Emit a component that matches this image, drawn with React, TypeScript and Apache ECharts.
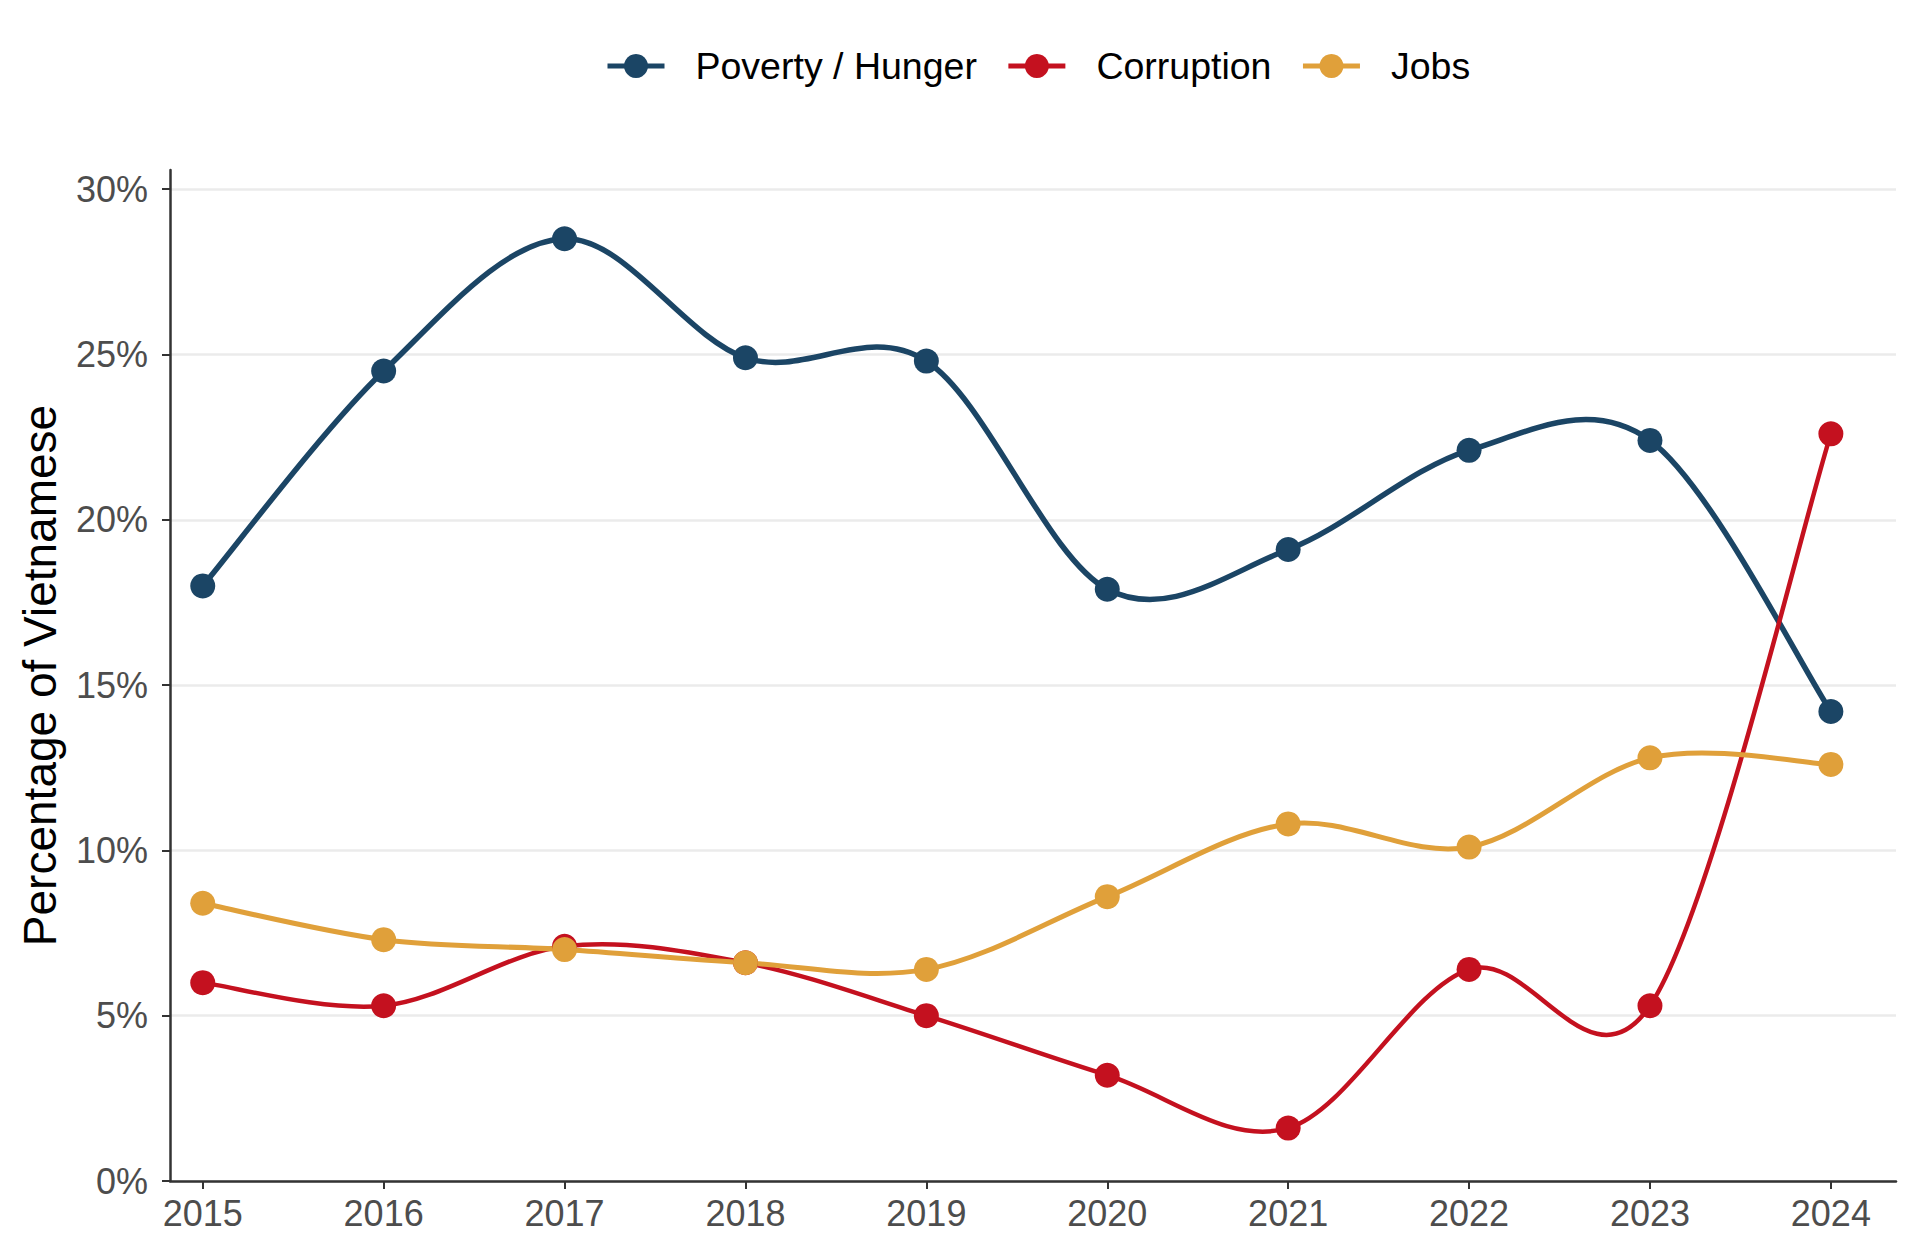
import React, { useEffect, useRef } from 'react';
import * as echarts from 'echarts';

// survey years and shares (%)
const years = [2015, 2016, 2017, 2018, 2019, 2020, 2021, 2022, 2023, 2024];
const povertyHunger = [18.0, 24.5, 28.5, 24.9, 24.8, 17.9, 19.1, 22.1, 22.4, 14.2];
const corruption = [6.0, 5.3, 7.1, 6.6, 5.0, 3.2, 1.6, 6.4, 5.3, 22.6];
const jobs = [8.4, 7.3, 7.0, 6.6, 6.4, 8.6, 10.8, 10.1, 12.8, 12.6];
const yTicks = [0, 5, 10, 15, 20, 25, 30];

const FONT = '"Liberation Sans", Arial, Helvetica, sans-serif';

const App: React.FC = () => {
  const chartRef = useRef<HTMLDivElement | null>(null);

  useEffect(() => {
    if (!chartRef.current) return;
    const myChart = echarts.init(chartRef.current, null, { renderer: 'svg' });

    const toPairs = (vals: number[]) => years.map((y, i) => [y, vals[i]]);

    // catmull-rom style curve between consecutive points (ggplot spline look)
    const curveSeries = (vals: number[], color: string, width: number) => ({
      type: 'custom',
      z: 1,
      silent: true,
      data: toPairs(vals),
      encode: { x: 0, y: 1 },
      renderItem: (params: any, api: any) => {
        const i = params.dataIndexInside;
        const n = params.dataInsideLength;
        if (i >= n - 1) return null;
        const pt = (k: number) => {
          const j = Math.max(0, Math.min(n - 1, k));
          return api.coord([api.value(0, j), api.value(1, j)]);
        };
        const p0 = pt(i - 1);
        const p1 = pt(i);
        const p2 = pt(i + 1);
        const p3 = pt(i + 2);
        return {
          type: 'bezierCurve',
          shape: {
            x1: p1[0],
            y1: p1[1],
            cpx1: p1[0] + (p2[0] - p0[0]) / 6,
            cpy1: p1[1] + (p2[1] - p0[1]) / 6,
            cpx2: p2[0] - (p3[0] - p1[0]) / 6,
            cpy2: p2[1] - (p3[1] - p1[1]) / 6,
            x2: p2[0],
            y2: p2[1],
          },
          style: { stroke: color, lineWidth: width, fill: null, lineCap: 'round' },
        };
      },
    });

    const pointSeries = (name: string, vals: number[], color: string) => ({
      name,
      type: 'line',
      z: 3,
      data: toPairs(vals),
      symbol: 'circle',
      symbolSize: 25,
      itemStyle: { color },
      lineStyle: { color, width: 0 },
    });

    const option = {
      animation: false,
      backgroundColor: '#ffffff',
      textStyle: { fontFamily: FONT },
      legend: {
        left: 600,
        top: 42,
        itemWidth: 57,
        itemHeight: 30,
        itemGap: 29,
        lineStyle: { width: 5 },
        textStyle: { fontSize: 37.5, color: '#000000', fontFamily: FONT, padding: [0, 0, 0, 26] },
        data: ['Poverty / Hunger', 'Corruption', 'Jobs'],
      },
      grid: { left: 170, right: 24, top: 170, bottom: 76 },
      xAxis: {
        type: 'value',
        min: 2014.819,
        max: 2024.36,
        splitLine: { show: false },
        axisLine: { lineStyle: { color: '#333333', width: 2.5 } },
        axisTick: { show: true, customValues: years, length: 8, lineStyle: { color: '#333333', width: 2 } },
        axisLabel: {
          customValues: years,
          formatter: (v: number) => String(v),
          fontSize: 36,
          color: '#4d4d4d',
          margin: 14,
          fontFamily: FONT,
        },
      },
      yAxis: {
        type: 'value',
        min: 0,
        max: 30.58,
        name: 'Percentage of Vietnamese',
        nameLocation: 'middle',
        nameRotate: 90,
        nameGap: 107,
        nameTextStyle: { fontSize: 46, color: '#000000', fontFamily: FONT },
        axisLine: { show: true, lineStyle: { color: '#333333', width: 2.5 } },
        axisTick: { show: true, customValues: yTicks, length: 8, lineStyle: { color: '#333333', width: 2 } },
        axisLabel: {
          customValues: yTicks,
          formatter: (v: number) => v + '%',
          fontSize: 36,
          color: '#4d4d4d',
          margin: 22,
          fontFamily: FONT,
        },
        splitLine: { show: true, lineStyle: { color: '#ebebeb', width: 2.5 } },
      },
      series: [
        curveSeries(povertyHunger, '#1b4565', 5.5),
        curveSeries(corruption, '#c4111f', 4.5),
        curveSeries(jobs, '#e0a03a', 5),
        pointSeries('Poverty / Hunger', povertyHunger, '#1b4565'),
        pointSeries('Corruption', corruption, '#c4111f'),
        pointSeries('Jobs', jobs, '#e0a03a'),
      ],
    };

    myChart.setOption(option);

    const handleResize = () => {
      myChart.resize();
    };
    window.addEventListener('resize', handleResize);

    return () => {
      window.removeEventListener('resize', handleResize);
      myChart.dispose();
    };
  }, []);

  return (
    <div
      ref={chartRef}
      style={{ position: 'absolute', left: 0, top: 0, width: '1920px', height: '1257px' }}
    />
  );
};

export default App;
